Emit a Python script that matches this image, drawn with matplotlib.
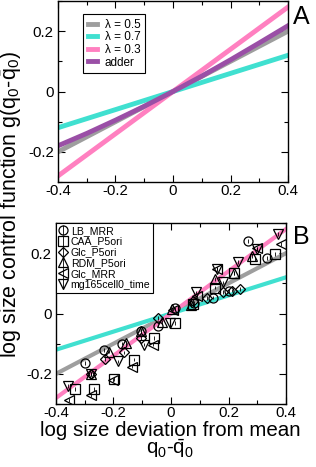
import matplotlib

matplotlib.use("Agg")
import matplotlib.pyplot as plt  # noqa: E402
from matplotlib.ticker import FuncFormatter, MultipleLocator  # noqa: E402

plt.rcParams["font.family"] = ["Liberation Sans", "DejaVu Sans"]
plt.rcParams["mathtext.fontset"] = "custom"
plt.rcParams["mathtext.rm"] = "Liberation Sans"
plt.rcParams["mathtext.it"] = "Liberation Sans"
plt.rcParams["axes.unicode_minus"] = False

# panel A: model control functions
LINE_X = [-0.4, 0.4]
LAMBDA_05 = [-0.20, 0.20]
LAMBDA_07 = [-0.12, 0.12]
LAMBDA_03 = [-0.28, 0.28]
ADDER_X = [-0.4, -0.3, -0.2, -0.1, 0.0, 0.1, 0.2, 0.3, 0.4]
ADDER_Y = [-0.180, -0.139, -0.095, -0.049, 0.0, 0.051, 0.105, 0.161, 0.218]

# panel B: measured data sets
LB_MRR_X = [-0.30, -0.232, -0.17, -0.104, -0.046, 0.015, 0.08, 0.147, 0.203, 0.269, 0.335]
LB_MRR_Y = [-0.164, -0.12, -0.10, -0.057, -0.040, 0.017, 0.035, 0.053, 0.074, 0.24, 0.183]
CAA_X = [-0.334, -0.267, -0.200, -0.128, -0.058, 0.014, 0.075, 0.153, 0.219, 0.292, 0.362]
CAA_Y = [-0.251, -0.251, -0.218, -0.153, -0.081, -0.031, 0.03, 0.086, 0.134, 0.181, 0.198]
GLC_P5_X = [-0.278, -0.228, -0.162, -0.104, -0.046, 0.075, 0.124, 0.182, 0.211, 0.240]
GLC_P5_Y = [-0.200, -0.151, -0.129, -0.081, -0.014, 0.041, 0.052, 0.072, 0.076, 0.081]
RDM_X = [-0.278, -0.214, -0.157, -0.104, -0.031, 0.005, 0.07, 0.153, 0.219, 0.28]
RDM_Y = [-0.200, -0.126, -0.098, -0.057, -0.029, 0.015, 0.028, 0.114, 0.134, 0.19]
GLC_MRR_X = [-0.354, -0.278, -0.203, -0.136, -0.064, 0.008, 0.09, 0.161, 0.30, 0.381]
GLC_MRR_Y = [-0.287, -0.27, -0.22, -0.176, -0.103, 0.013, 0.058, 0.147, 0.216, 0.231]
MG_X = [-0.36, -0.278, -0.186, -0.093, -0.003, 0.088, 0.182, 0.159, 0.234, 0.30, 0.373]
MG_Y = [-0.24, -0.20, -0.159, -0.103, -0.031, 0.07, 0.103, 0.149, 0.17, 0.214, 0.264]
ERR = 0.006

GRAY, CYAN, PINK, PURPLE = "#9e9e9e", "#40e0d0", "#ff80c0", "#9a4fa6"

SETS = [
    ("LB_MRR", "o", LB_MRR_X, LB_MRR_Y),
    ("CAA_P5ori", "s", CAA_X, CAA_Y),
    ("Glc_P5ori", "D", GLC_P5_X, GLC_P5_Y),
    ("RDM_P5ori", "^", RDM_X, RDM_Y),
    ("Glc_MRR", "<", GLC_MRR_X, GLC_MRR_Y),
    ("mg165cell0_time", "v", MG_X, MG_Y),
]


def style(ax):
    ax.set_xlim(-0.4, 0.4)
    ax.set_ylim(-0.3, 0.3)
    ax.xaxis.set_major_locator(MultipleLocator(0.2))
    ax.xaxis.set_minor_locator(MultipleLocator(0.1))
    ax.yaxis.set_major_locator(MultipleLocator(0.2))
    ax.yaxis.set_minor_locator(MultipleLocator(0.1))
    fmt = FuncFormatter(lambda v, _: f"{round(v, 2):g}")
    ax.xaxis.set_major_formatter(fmt)
    ax.yaxis.set_major_formatter(fmt)
    ax.tick_params(which="both", direction="in", top=True, right=True, labelsize=10.8,
                   width=0.8)
    ax.tick_params(axis="x", pad=1.5)
    ax.tick_params(axis="y", pad=3)
    ax.tick_params(which="major", length=5)
    ax.tick_params(which="minor", length=3)
    for s in ax.spines.values():
        s.set_linewidth(1.0)


fig = plt.figure(figsize=(3.16, 4.67), dpi=100)
axA = fig.add_axes([58 / 316, 1 - 182 / 467, 230 / 316, 181 / 467])
axB = fig.add_axes([56 / 316, 1 - 404 / 467, 230 / 316, 181 / 467])

axA.plot(LINE_X, LAMBDA_05, color=GRAY, lw=3.5, label="λ = 0.5")
axA.plot(LINE_X, LAMBDA_07, color=CYAN, lw=3.5, label="λ = 0.7")
axA.plot(LINE_X, LAMBDA_03, color=PINK, lw=3.5, label="λ = 0.3")
axA.plot(ADDER_X, ADDER_Y, color=PURPLE, lw=3.5, label="adder")
style(axA)
legA = axA.legend(loc="upper left", bbox_to_anchor=(0.109, 0.928), fontsize=8.5,
                  handlelength=0.8, handletextpad=0.65, labelspacing=0.05, borderpad=0.4,
                  fancybox=False, framealpha=1, edgecolor="black", borderaxespad=0)
legA.get_frame().set_linewidth(0.8)

axB.plot(LINE_X, LAMBDA_05, color=GRAY, lw=3)
axB.plot(LINE_X, LAMBDA_07, color=CYAN, lw=3)
axB.plot(LINE_X, LAMBDA_03, color=PINK, lw=3)
for name, mk, xs, ys in SETS:
    ms = 5 if mk == "D" else 6.5
    axB.errorbar(xs, ys, yerr=ERR, fmt=mk, ms=ms, mfc="none", mec="black", mew=0.9,
                 ecolor="black", elinewidth=0.6, capsize=0, label=name)
style(axB)
legB = axB.legend(loc="upper left", fontsize=7.6, handlelength=0.8, handletextpad=0.35,
                  labelspacing=0.08, borderpad=0.25, fancybox=False, framealpha=1,
                  edgecolor="black", borderaxespad=0)
legB.get_frame().set_linewidth(0.8)

fig.text(170 / 316, 1 - 420.5 / 467,
         "log size deviation from mean\n" + r"q$_0$-$\bar{\mathrm{q}}_0$",
         ha="center", va="top", multialignment="center", fontsize=14.8, linespacing=0.85)
fig.text(17 / 316, 1 - 205 / 467, r"log size control function g(q$_0$-$\bar{\mathrm{q}}_0$)",
         rotation=90, rotation_mode="anchor", ha="center", va="baseline", fontsize=15.5)
fig.text(301 / 316, 1 - 17 / 467, "A", ha="center", va="center", fontsize=18)
fig.text(301 / 316, 1 - 237 / 467, "B", ha="center", va="center", fontsize=18)

fig.savefig("out.png", dpi=100)
